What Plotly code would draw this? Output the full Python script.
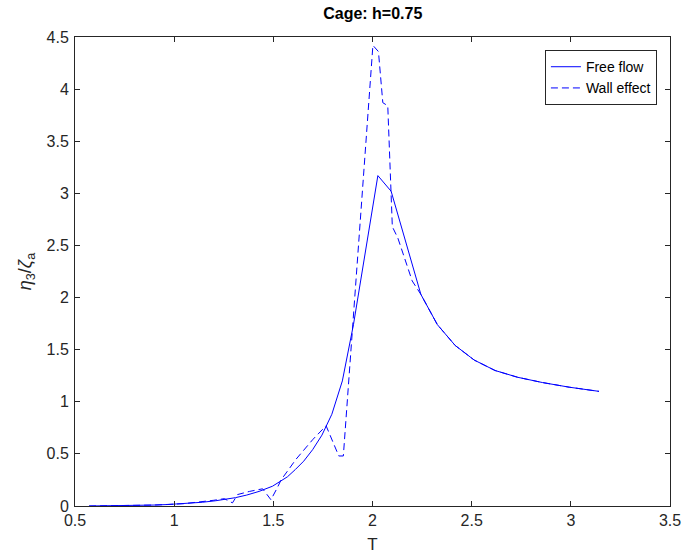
import plotly.graph_objects as go

# Free flow series
T_free = [0.571, 0.628, 0.698, 0.785, 0.898, 0.967, 1.047, 1.142, 1.208, 1.257,
          1.309, 1.366, 1.428, 1.496, 1.532, 1.571, 1.611, 1.653, 1.698, 1.745,
          1.795, 1.848, 1.904, 1.963, 2.027, 2.094, 2.167, 2.244, 2.327, 2.417,
          2.513, 2.618, 2.732, 2.856, 2.992, 3.142]
y_free = [0.000, 0.001, 0.002, 0.004, 0.009, 0.014, 0.022, 0.036, 0.050, 0.065,
          0.080, 0.105, 0.140, 0.190, 0.230, 0.280, 0.350, 0.430, 0.540, 0.680,
          0.880, 1.200, 1.740, 2.430, 3.170, 3.020, 2.550, 2.030, 1.740, 1.540,
          1.400, 1.300, 1.235, 1.185, 1.140, 1.100]

# Wall effect series
T_wall = [0.571, 0.785, 0.898, 1.047, 1.142, 1.200, 1.253, 1.294, 1.320, 1.380,
          1.446, 1.488, 1.520, 1.539, 1.615, 1.700, 1.766, 1.830, 1.853, 2.002,
          2.030, 2.052, 2.077, 2.100, 2.128, 2.200, 2.244, 2.327, 2.417, 2.513,
          2.618, 2.732, 2.856, 2.992, 3.142]
y_wall = [0.000, 0.004, 0.009, 0.022, 0.040, 0.055, 0.070, 0.030, 0.110, 0.140,
          0.165, 0.060, 0.175, 0.250, 0.450, 0.640, 0.770, 0.480, 0.480, 4.420,
          4.360, 3.870, 3.840, 2.680, 2.570, 2.160, 2.030, 1.740, 1.540, 1.400,
          1.300, 1.235, 1.185, 1.140, 1.100]

x_ticks = [0.5, 1, 1.5, 2, 2.5, 3, 3.5]
y_ticks = [0, 0.5, 1, 1.5, 2, 2.5, 3, 3.5, 4, 4.5]

FONT = "Liberation Sans, Arial, Helvetica, sans-serif"
AX = "#262626"

fig = go.Figure()
fig.add_trace(go.Scatter(x=T_free, y=y_free, mode="lines", name="Free flow",
                         line=dict(color="#0000ff", width=1)))
fig.add_trace(go.Scatter(x=T_wall, y=y_wall, mode="lines", name="Wall effect",
                         line=dict(color="#0000ff", width=1, dash="7px,4px")))

axis_common = dict(showgrid=False, zeroline=False, showline=True, linecolor=AX,
                   linewidth=1, mirror="ticks", ticks="inside", ticklen=5,
                   tickcolor=AX, automargin=False,
                   tickfont=dict(family=FONT, size=16, color=AX))

fig.update_xaxes(range=[0.5, 3.5], tickvals=x_ticks,
                 ticktext=[f"{v:g}" for v in x_ticks],
                 title=dict(text="T", font=dict(family=FONT, size=17, color=AX), standoff=9),
                 **axis_common)
fig.update_yaxes(range=[0, 4.5], tickvals=y_ticks,
                 ticktext=[f"{v:g}" for v in y_ticks],
                 title=dict(text="<i>η</i><sub>3</sub>/<i>ζ</i><sub>a</sub>",
                            font=dict(family=FONT, size=18, color=AX), standoff=10),
                 ticklabelstandoff=2,
                 **axis_common)

fig.update_layout(
    width=684, height=555,
    margin=dict(l=75, r=14, t=37, b=49),
    paper_bgcolor="white", plot_bgcolor="white",
    title=dict(text="<b>Cage: h=0.75</b>", x=0.545, xanchor="center",
               y=0.975, yanchor="middle",
               font=dict(family=FONT, size=16, color="black")),
    legend=dict(x=0.978, xanchor="right", y=0.972, yanchor="top",
                bgcolor="white", bordercolor=AX, borderwidth=1,
                font=dict(family=FONT, size=14, color="black"),
                itemwidth=30, tracegroupgap=0),
    showlegend=True,
)

fig.write_html("out.html")
